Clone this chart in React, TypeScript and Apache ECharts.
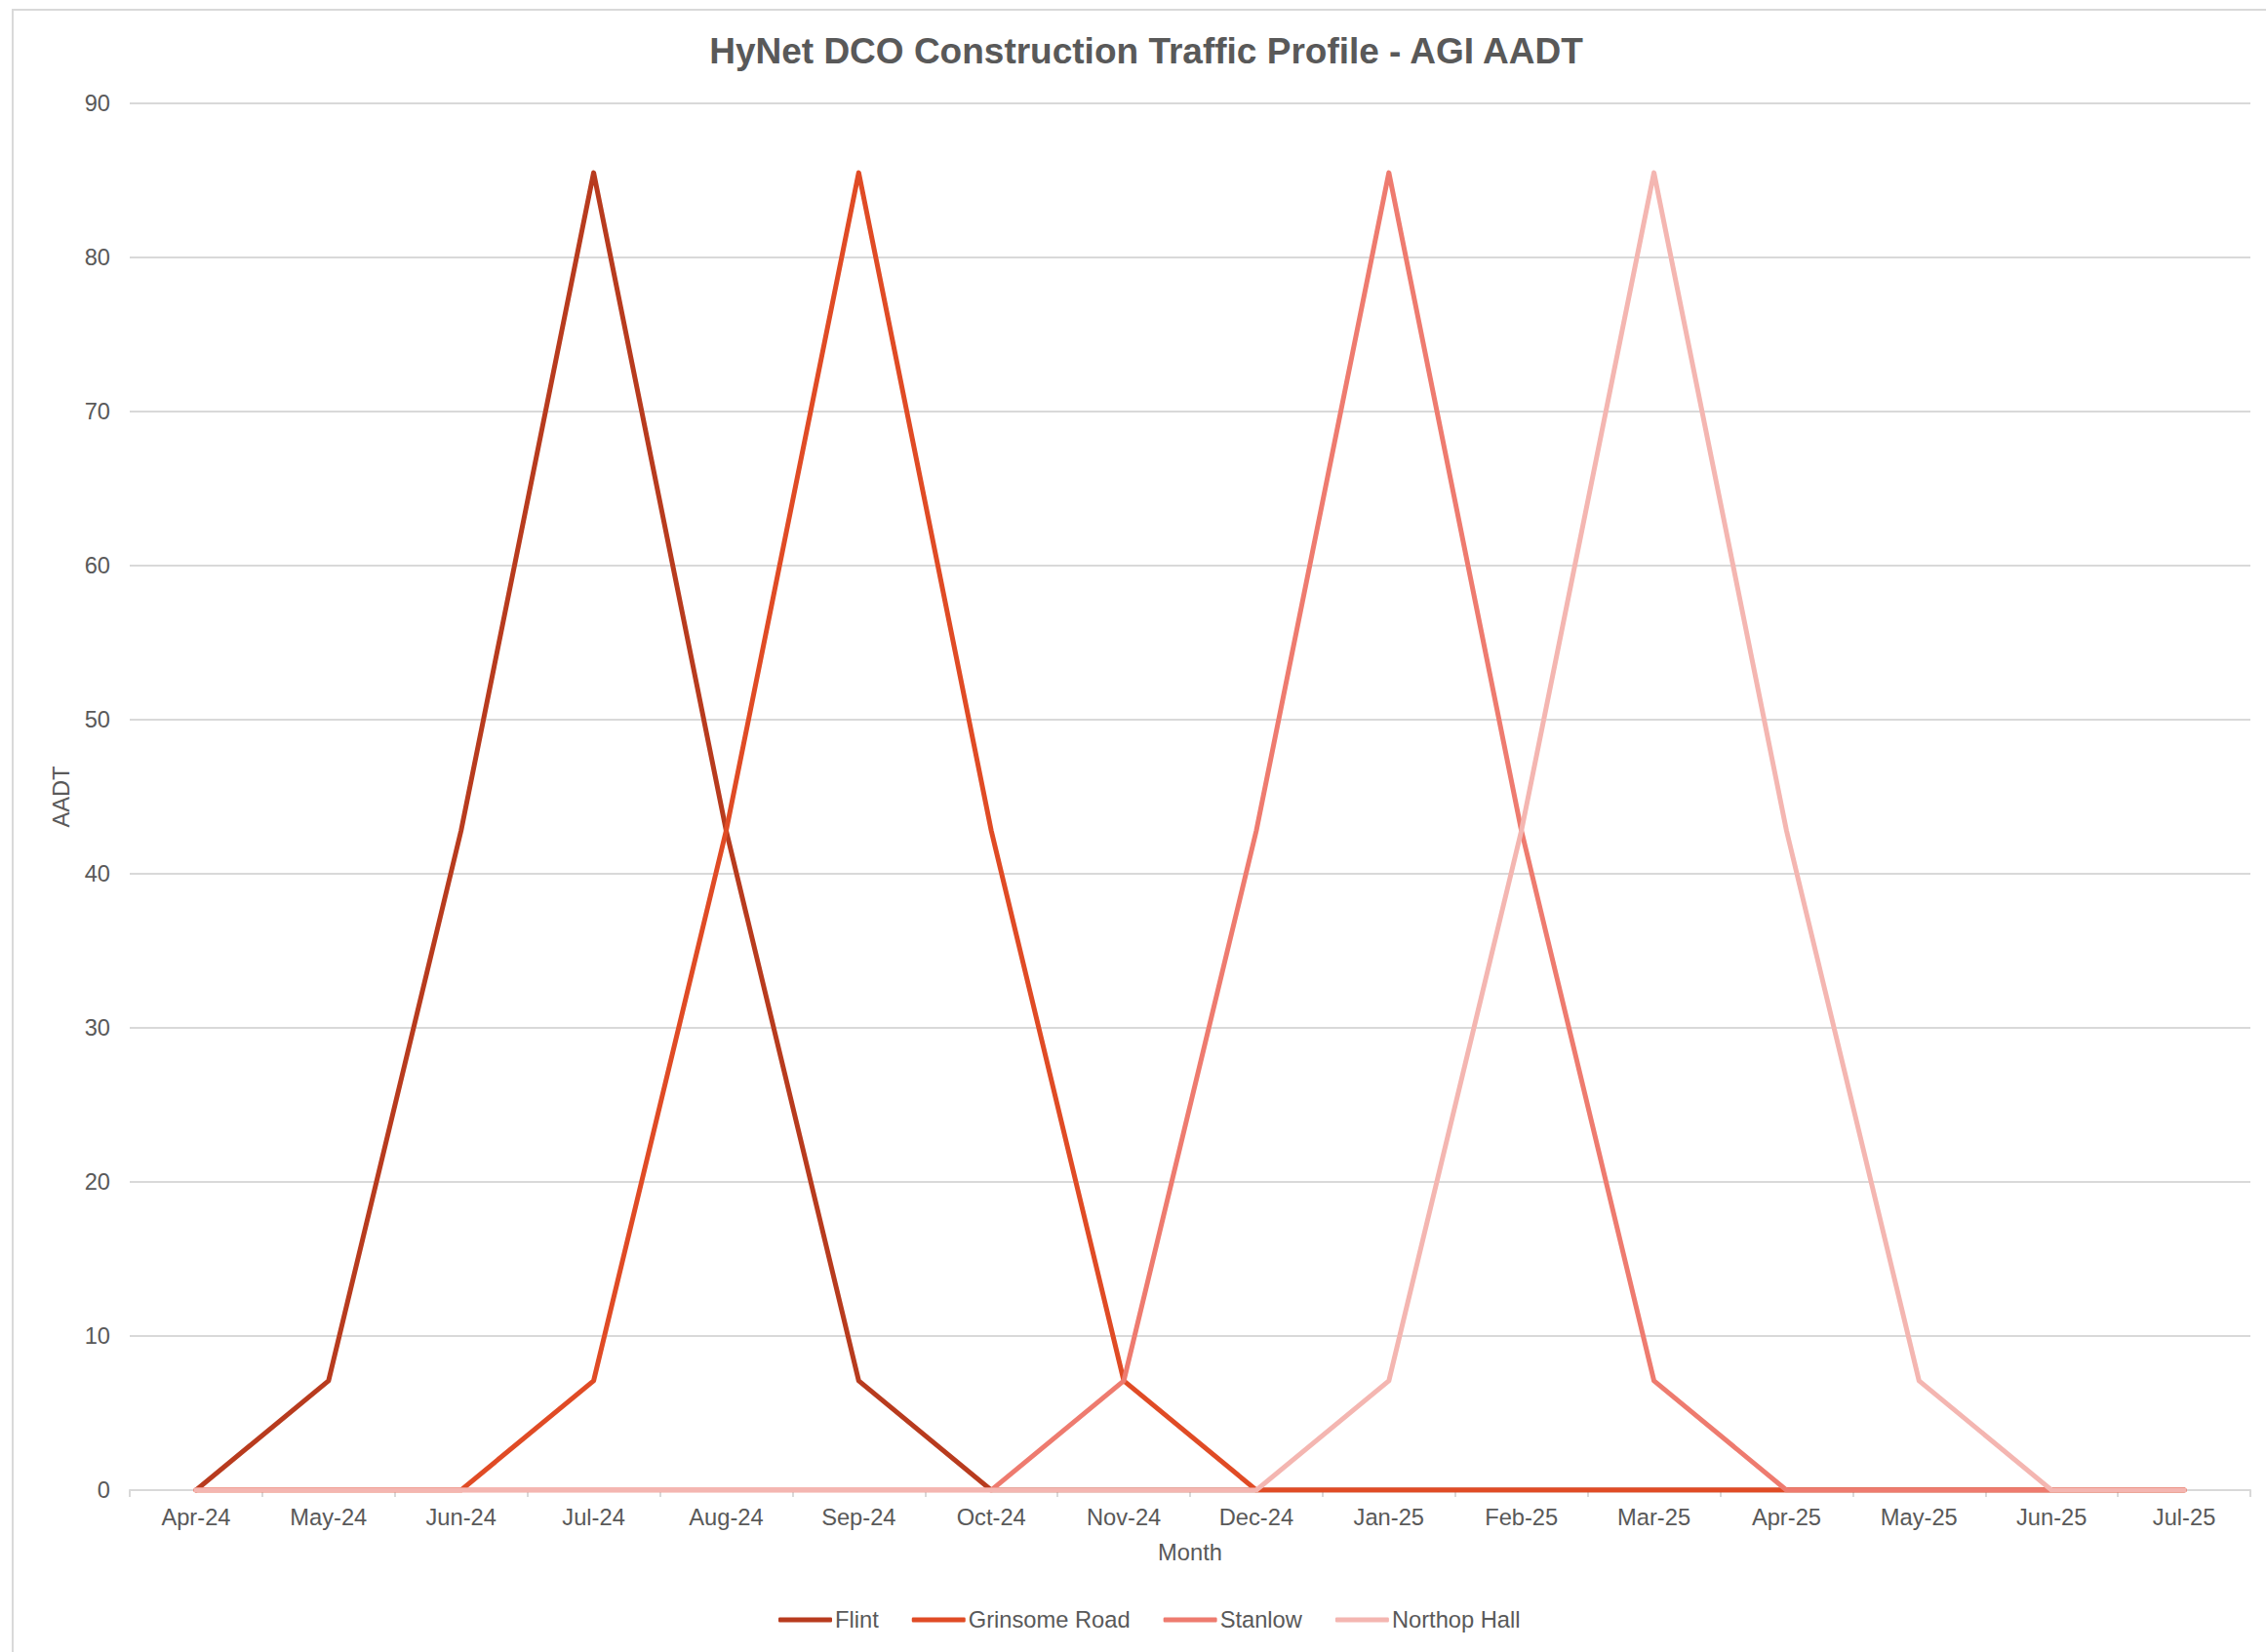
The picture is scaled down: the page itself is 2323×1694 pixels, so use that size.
import React, { useEffect, useRef } from "react";
import * as echarts from "echarts";

const months = [
  "Apr-24", "May-24", "Jun-24", "Jul-24", "Aug-24", "Sep-24", "Oct-24", "Nov-24",
  "Dec-24", "Jan-25", "Feb-25", "Mar-25", "Apr-25", "May-25", "Jun-25", "Jul-25",
];

const flint = [0, 7.1, 42.8, 85.5, 42.8, 7.1, 0, 0, 0, 0, 0, 0, 0, 0, 0, 0];
const grinsomeRoad = [0, 0, 0, 7.1, 42.8, 85.5, 42.8, 7.1, 0, 0, 0, 0, 0, 0, 0, 0];
const stanlow = [0, 0, 0, 0, 0, 0, 0, 7.1, 42.8, 85.5, 42.8, 7.1, 0, 0, 0, 0];
const northopHall = [0, 0, 0, 0, 0, 0, 0, 0, 0, 7.1, 42.8, 85.5, 42.8, 7.1, 0, 0];

const seriesNames = ["Flint", "Grinsome Road", "Stanlow", "Northop Hall"];
const seriesColors = ["#B83B1E", "#E04B25", "#EE7B6F", "#F4B6B1"];

const FONT = "'Liberation Sans', Arial, sans-serif";
const TEXT = "#595959";
const GRID = "#D9D9D9";

export default function App() {
  const ref = useRef<HTMLDivElement>(null);

  useEffect(() => {
    if (!ref.current) return;
    const chart = echarts.init(ref.current, null, { renderer: "svg" });
    const data = [flint, grinsomeRoad, stanlow, northopHall];
    chart.setOption({
      animation: false,
      backgroundColor: "#ffffff",
      graphic: [
        {
          type: "rect",
          shape: { x: 13, y: 10, width: 2400, height: 1800 },
          style: { fill: "none", stroke: GRID, lineWidth: 2 },
          silent: true,
          z: -10,
        },
        {
          type: "text",
          x: 1175,
          y: 52,
          style: {
            text: "HyNet DCO Construction Traffic Profile - AGI AADT",
            font: `bold 37px ${FONT}`,
            fill: TEXT,
            textAlign: "center",
            textVerticalAlign: "middle",
          },
        },
      ],
      grid: { left: 133, right: 16, top: 106, bottom: 166, containLabel: false },
      legend: {
        data: seriesNames,
        top: 1644,
        left: 1178,
        right: "auto",
        icon: "roundRect",
        itemWidth: 55,
        itemHeight: 5,
        itemGap: 34,
        textStyle: { color: TEXT, fontSize: 23.7, fontFamily: FONT, padding: [0, 0, 0, -2] },
      },
      xAxis: {
        type: "category",
        data: months,
        boundaryGap: true,
        name: "Month",
        nameLocation: "middle",
        nameGap: 52,
        nameTextStyle: { color: TEXT, fontSize: 23.7, fontFamily: FONT },
        axisLine: { show: true, lineStyle: { color: GRID, width: 2 } },
        axisTick: { show: true, length: 7, lineStyle: { color: GRID, width: 2 } },
        axisLabel: { color: TEXT, fontSize: 23.7, fontFamily: FONT, margin: 16 },
        splitLine: { show: false },
      },
      yAxis: {
        type: "value",
        min: 0,
        max: 90,
        interval: 10,
        name: "AADT",
        nameLocation: "middle",
        nameGap: 58,
        nameTextStyle: { color: TEXT, fontSize: 23.7, fontFamily: FONT },
        axisLine: { show: false },
        axisTick: { show: false },
        axisLabel: { color: TEXT, fontSize: 23.7, fontFamily: FONT, margin: 20 },
        splitLine: { show: true, lineStyle: { color: GRID, width: 2 } },
      },
      series: data.map((d, i) => ({
        name: seriesNames[i],
        type: "line",
        data: d,
        symbol: "none",
        showSymbol: false,
        color: seriesColors[i],
        lineStyle: { color: seriesColors[i], width: 5, cap: "round", join: "round" },
        z: 2 + i,
      })),
    });
    const legendModel: any = (chart as any).getModel().getComponent("legend");
    if (legendModel) {
      const view: any = (chart as any).getViewOfComponentModel(legendModel);
      const rect = view && view.group && view.group.getBoundingRect();
      if (rect && rect.width) {
        chart.setOption({ legend: { left: Math.round(1178 - rect.width / 2) } });
      }
    }
    return () => chart.dispose();
  }, []);

  return (
    <div
      ref={ref}
      style={{ position: "absolute", left: 0, top: 0, width: 2323, height: 1694 }}
    />
  );
}
